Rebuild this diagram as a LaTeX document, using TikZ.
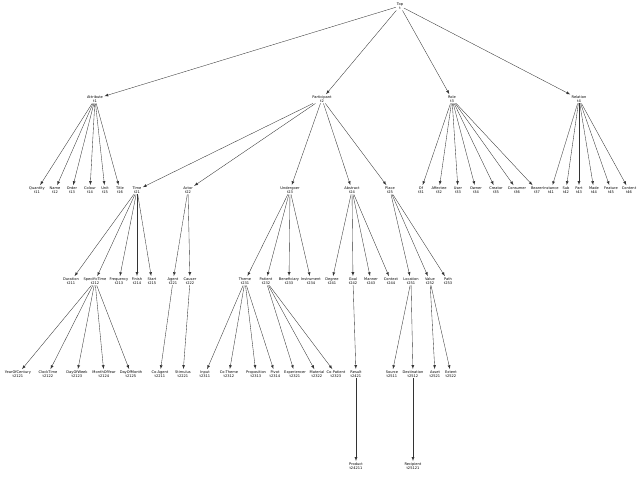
\documentclass[tikz,border=0pt]{standalone}
\usepackage{fontspec}
\setmainfont{DejaVu Sans}
\begin{document}
\begin{tikzpicture}[x=1pt,y=-1pt,
  n/.style={inner sep=0.8pt,align=center,font=\fontsize{3.6}{4.2}\selectfont},
  e/.style={-latex,line width=0.35pt,black!80,shorten >=0.5pt}]
\useasboundingbox (0,0) rectangle (640,490);
\node[n] (top) at (400,6) {Top\\t};
\node[n] (t1) at (95,99) {Attribute\\t1};
\node[n] (t2) at (322,99) {Participant\\t2};
\node[n] (t3) at (452,99) {Role\\t3};
\node[n] (t4) at (579,99) {Relation\\t4};
\foreach \c in {t1,t2,t3,t4} \draw[e] (top) -- (\c);
% level 2
\node[n] (t11) at (37,190) {Quantity\\t11};
\node[n] (t12) at (55,190) {Name\\t12};
\node[n] (t13) at (72,190) {Order\\t13};
\node[n] (t14) at (90,190) {Colour\\t14};
\node[n] (t15) at (105,190) {Unit\\t15};
\node[n] (t16) at (120,190) {Title\\t16};
\foreach \c in {t11,t12,t13,t14,t15,t16} \draw[e] (t1) -- (\c);
\node[n] (t21) at (137,190) {Time\\t21};
\node[n] (t22) at (188,190) {Actor\\t22};
\node[n] (t23) at (290,190) {Undergoer\\t23};
\node[n] (t24) at (352,190) {Abstract\\t24};
\node[n] (t25) at (390,190) {Place\\t25};
\foreach \c in {t21,t22,t23,t24,t25} \draw[e] (t2) -- (\c);
\node[n] (t31) at (421,190) {Of\\t31};
\node[n] (t32) at (439,190) {Affectee\\t32};
\node[n] (t33) at (458,190) {User\\t33};
\node[n] (t34) at (476,190) {Owner\\t34};
\node[n] (t35) at (496,190) {Creator\\t35};
\node[n] (t36) at (517,190) {Consumer\\t36};
\node[n] (t37) at (537,190) {Bearer\\t37};
\foreach \c in {t31,t32,t33,t34,t35,t36,t37} \draw[e] (t3) -- (\c);
\node[n] (t41) at (551,190) {Instance\\t41};
\node[n] (t42) at (566,190) {Sub\\t42};
\node[n] (t43) at (579,190) {Part\\t43};
\node[n] (t44) at (594,190) {Made\\t44};
\node[n] (t45) at (611,190) {Feature\\t45};
\node[n] (t46) at (629,190) {Content\\t46};
\foreach \c in {t41,t42,t43,t44,t45,t46} \draw[e] (t4) -- (\c);
% level 3
\node[n] (t211) at (71,281) {Duration\\t211};
\node[n] (t212) at (95,281) {SpecificTime\\t212};
\node[n] (t213) at (119,281) {Frequency\\t213};
\node[n] (t214) at (137,281) {Finish\\t214};
\node[n] (t215) at (152,281) {Start\\t215};
\foreach \c in {t211,t212,t213,t214,t215} \draw[e] (t21) -- (\c);
\node[n] (t221) at (173,281) {Agent\\t221};
\node[n] (t222) at (190,281) {Causer\\t222};
\foreach \c in {t221,t222} \draw[e] (t22) -- (\c);
\node[n] (t231) at (245,281) {Theme\\t231};
\node[n] (t232) at (266,281) {Patient\\t232};
\node[n] (t233) at (289,281) {Beneficiary\\t233};
\node[n] (t234) at (311,281) {Instrument\\t234};
\foreach \c in {t231,t232,t233,t234} \draw[e] (t23) -- (\c);
\node[n] (t241) at (332,281) {Degree\\t241};
\node[n] (t242) at (353,281) {Goal\\t242};
\node[n] (t243) at (371,281) {Manner\\t243};
\node[n] (t244) at (391,281) {Context\\t244};
\foreach \c in {t241,t242,t243,t244} \draw[e] (t24) -- (\c);
\node[n] (t251) at (411,281) {Location\\t251};
\node[n] (t252) at (430,281) {Value\\t252};
\node[n] (t253) at (448,281) {Path\\t253};
\foreach \c in {t251,t252,t253} \draw[e] (t25) -- (\c);
% level 4
\node[n] (t2121) at (18,374) {YearOfCentury\\t2121};
\node[n] (t2122) at (48,374) {ClockTime\\t2122};
\node[n] (t2123) at (77,374) {DayOfWeek\\t2123};
\node[n] (t2124) at (104,374) {MonthOfYear\\t2124};
\node[n] (t2125) at (131,374) {DayOfMonth\\t2125};
\foreach \c in {t2121,t2122,t2123,t2124,t2125} \draw[e] (t212) -- (\c);
\node[n] (t2211) at (160,374) {Co-Agent\\t2211};
\draw[e] (t221) -- (t2211);
\node[n] (t2221) at (183,374) {Stimulus\\t2221};
\draw[e] (t222) -- (t2221);
\node[n] (t2311) at (205,374) {Input\\t2311};
\node[n] (t2312) at (229,374) {Co-Theme\\t2312};
\node[n] (t2313) at (256,374) {Proposition\\t2313};
\node[n] (t2314) at (275,374) {Pivot\\t2314};
\foreach \c in {t2311,t2312,t2313,t2314} \draw[e] (t231) -- (\c);
\node[n] (t2321) at (295,374) {Experiencer\\t2321};
\node[n] (t2322) at (317,374) {Material\\t2322};
\node[n] (t2323) at (336,374) {Co-Patient\\t2323};
\foreach \c in {t2321,t2322,t2323} \draw[e] (t232) -- (\c);
\node[n] (t2421) at (356,374) {Result\\t2421};
\draw[e] (t242) -- (t2421);
\node[n] (t2511) at (392,374) {Source\\t2511};
\node[n] (t2512) at (413,374) {Destination\\t2512};
\foreach \c in {t2511,t2512} \draw[e] (t251) -- (\c);
\node[n] (t2521) at (435,374) {Asset\\t2521};
\node[n] (t2522) at (451,374) {Extent\\t2522};
\foreach \c in {t2521,t2522} \draw[e] (t252) -- (\c);
% level 5
\node[n] (t24211) at (356,466) {Product\\t24211};
\draw[e] (t2421) -- (t24211);
\node[n] (t25121) at (413,466) {Recipient\\t25121};
\draw[e] (t2512) -- (t25121);
\end{tikzpicture}
\end{document}
